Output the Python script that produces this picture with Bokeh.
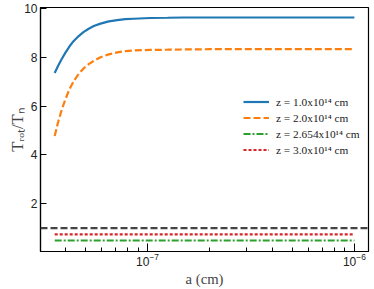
from bokeh.plotting import figure
from bokeh.models import Span, Legend, LegendItem, Range1d, FixedTicker, LogTickFormatter
from bokeh.embed import file_html
from bokeh.resources import INLINE

# ---- data ----
a_vals = [3.56e-8, 3.7e-8, 3.85e-8, 4.0e-8, 4.2e-8, 4.4e-8, 4.65e-8, 4.92e-8, 5.2e-8,
          5.5e-8, 5.93e-8, 6.5e-8, 7.14e-8, 7.8e-8, 8.56e-8, 1.03e-7, 1.25e-7,
          1.5e-7, 2e-7, 3e-7, 5e-7, 1e-6]
z1_vals = [7.36, 7.65, 7.93, 8.17, 8.45, 8.67, 8.87, 9.04, 9.17,
           9.28, 9.38, 9.47, 9.52, 9.56, 9.58, 9.61, 9.62,
           9.63, 9.63, 9.63, 9.63, 9.63]
z2_vals = [4.77, 5.35, 5.85, 6.25, 6.70, 7.02, 7.32, 7.55, 7.72,
           7.85, 8.00, 8.12, 8.20, 8.25, 8.28, 8.30, 8.31,
           8.32, 8.33, 8.33, 8.33, 8.33]
flat_a = [3.56e-8, 1e-6]
z3_vals = [0.49, 0.49]
z4_vals = [0.74, 0.74]
ref_level = 1.0
labels = ["z = 1.0x10¹⁴ cm", "z = 2.0x10¹⁴ cm", "z = 2.654x10¹⁴ cm", "z = 3.0x10¹⁴ cm"]
y_ticks = [2, 4, 6, 8, 10]
x_major = [1e-7, 1e-6]
x_minor = [4e-8, 5e-8, 6e-8, 7e-8, 8e-8, 9e-8,
           2e-7, 3e-7, 4e-7, 5e-7, 6e-7, 7e-7, 8e-7, 9e-7]

p = figure(width=374, height=289, x_axis_type="log",
           x_range=Range1d(3.04e-8, 1.17e-6), y_range=Range1d(0.04, 10.04),
           output_backend="svg", toolbar_location=None,
           min_border_left=40, min_border_right=6, min_border_top=7, min_border_bottom=37)
p.xgrid.visible = False
p.ygrid.visible = False
p.outline_line_color = "black"
p.outline_line_width = 1.2
p.background_fill_color = "white"
p.border_fill_color = "white"

r1 = p.line(a_vals, z1_vals, line_color="#1f77b4", line_width=2.2)
r2 = p.line(a_vals, z2_vals, line_color="#ff7f0e", line_width=2.2, line_dash="7 3")
r3 = p.line(flat_a, z3_vals, line_color="#2ca02c", line_width=2.2, line_dash="7 2 2 2")
r4 = p.line(flat_a, z4_vals, line_color="#d62728", line_width=2.2, line_dash="3 2")
p.add_layout(Span(location=ref_level, dimension="width", line_color="#444444",
                  line_width=2.2, line_dash="7 3"))

legend = Legend(items=[LegendItem(label=l, renderers=[r]) for l, r in zip(labels, [r1, r2, r3, r4])],
                location=(199, 90), background_fill_alpha=0, border_line_alpha=0,
                label_text_font="Liberation Serif", label_text_font_size="8.5pt",
                label_text_color="#222222",
                label_height=15, glyph_height=15, glyph_width=26, label_standoff=7,
                spacing=1, padding=4, margin=0)
p.add_layout(legend, "center")

for ax in [p.xaxis[0], p.yaxis[0]]:
    ax.axis_line_width = 1.2
    ax.major_tick_out = 0
    ax.minor_tick_out = 0
    ax.major_label_text_font = "Liberation Sans"
    ax.major_label_text_font_size = "9pt"
    ax.major_label_text_color = "#222222"
    ax.axis_label_text_font = "Liberation Serif"
    ax.axis_label_text_font_style = "normal"
    ax.axis_label_text_font_size = "11pt"
    ax.axis_label_text_color = "#444444"

p.xaxis.ticker = FixedTicker(ticks=x_major, minor_ticks=x_minor)
p.xaxis.formatter = LogTickFormatter()
p.xaxis.major_tick_in = 8
p.xaxis.minor_tick_in = 4
p.xaxis.major_label_standoff = 1
p.xaxis.axis_label = "a (cm)"
p.xaxis.axis_label_standoff = 2

p.yaxis.ticker = FixedTicker(ticks=y_ticks)
p.yaxis.major_tick_in = 6
p.yaxis.minor_tick_in = 0
p.yaxis.major_label_standoff = 3
p.yaxis.axis_label = "Tᵣₒₜ/Tₙ"
p.yaxis.axis_label_text_font_size = "12.5pt"
p.yaxis.axis_label_standoff = -6

open("out.html", "w").write(file_html(p, INLINE))
